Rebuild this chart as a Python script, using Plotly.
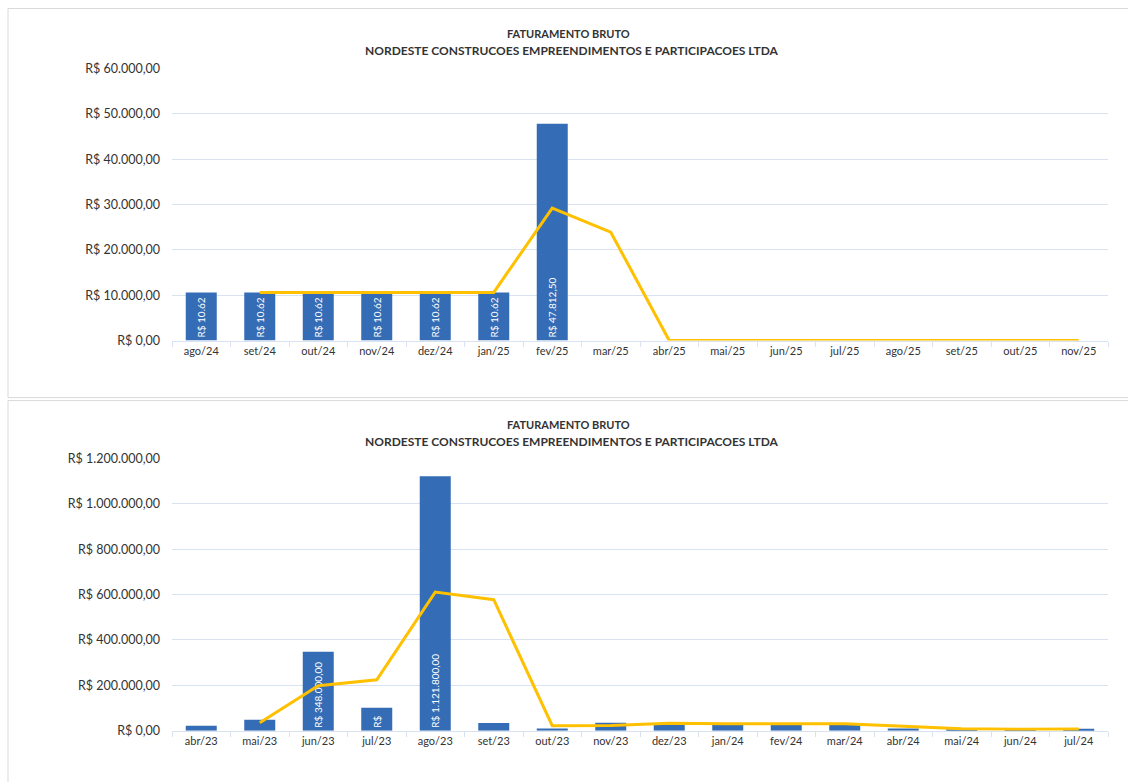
import plotly.graph_objects as go

# ---------------- data ----------------
months_top = ["ago/24", "set/24", "out/24", "nov/24", "dez/24", "jan/25", "fev/25", "mar/25",
              "abr/25", "mai/25", "jun/25", "jul/25", "ago/25", "set/25", "out/25", "nov/25"]
values_top = [10625, 10625, 10625, 10625, 10625, 10625, 47812.50, 0,
              0, 0, 0, 0, 0, 0, 0, 0]
labels_top = ["R$ 10.62", "R$ 10.62", "R$ 10.62", "R$ 10.62", "R$ 10.62", "R$ 10.62",
              "R$ 47.812,50", "", "", "", "", "", "", "", "", ""]

months_bot = ["abr/23", "mai/23", "jun/23", "jul/23", "ago/23", "set/23", "out/23", "nov/23",
              "dez/23", "jan/24", "fev/24", "mar/24", "abr/24", "mai/24", "jun/24", "jul/24"]
values_bot = [22000, 48000, 348000, 101000, 1121800, 34000, 10000, 35000,
              30000, 30000, 30000, 30000, 10000, 6000, 6000, 8000]
labels_bot = ["", "", "R$ 348.000,00", "R$", "R$ 1.121.800,00", "", "", "",
              "", "", "", "", "", "", "", ""]

title_line1 = "FATURAMENTO BRUTO"
title_line2 = "NORDESTE CONSTRUCOES EMPREENDIMENTOS E PARTICIPACOES LTDA"


def moving_avg(vals):
    out = [None]
    for i in range(1, len(vals)):
        out.append((vals[i - 1] + vals[i]) / 2)
    return out


# ---------------- layout constants ----------------
W, H = 1128, 782
FONT = "Lato"
BAR_COLOR = "#346cb5"
LINE_COLOR = "#FFC000"
GRID = "#d9e2f1"
TXT = "#333333"


def px(x):
    return x / W


def py(y):
    # vertical calibration of the rendered page
    yp = (y - 7.5) / 0.9806
    return 1 - yp / H


fig = go.Figure()

for idx, (cats, vals, labs) in enumerate([(months_top, values_top, labels_top),
                                          (months_bot, values_bot, labels_bot)]):
    xa = "x" if idx == 0 else "x2"
    ya = "y" if idx == 0 else "y2"
    fig.add_trace(go.Bar(
        x=cats, y=vals, text=labs, xaxis=xa, yaxis=ya,
        marker=dict(color=BAR_COLOR, line=dict(width=0)),
        width=0.53,
        textposition="inside", insidetextanchor="start", textangle=-90,
        constraintext="none",
        textfont=dict(family=FONT, size=10, color="white"),
        showlegend=False, cliponaxis=False,
    ))
    fig.add_trace(go.Scatter(
        x=cats, y=moving_avg(vals), xaxis=xa, yaxis=ya, mode="lines",
        line=dict(color=LINE_COLOR, width=3), showlegend=False,
    ))

axis_common_x = dict(
    type="category", showgrid=False, showline=True, linecolor=GRID, linewidth=1,
    ticks="outside", tickson="boundaries", ticklen=5, tickcolor=GRID,
    tickfont=dict(family=FONT, size=11, color=TXT), zeroline=False,
)
axis_common_y = dict(
    showgrid=True, gridcolor=GRID, gridwidth=1, zeroline=False, showline=False,
    tickprefix="R$ ", tickformat=",.2f", ticks="", ticklen=0, ticklabelstandoff=11,
    tickfont=dict(family=FONT, size=12.5, color=TXT),
)

fig.update_layout(
    width=W, height=H, margin=dict(l=0, r=0, t=0, b=0),
    paper_bgcolor="white", plot_bgcolor="white",
    separators=",.", bargap=0.47,
    font=dict(family=FONT),
    xaxis=dict(domain=[px(172), px(1108)], anchor="y", **axis_common_x),
    yaxis=dict(domain=[py(340), py(68)], anchor="x", range=[0, 60000], dtick=10000,
               **axis_common_y),
    xaxis2=dict(domain=[px(172), px(1108)], anchor="y2", **axis_common_x),
    yaxis2=dict(domain=[py(730), py(458)], anchor="x2", range=[0, 1200000], dtick=200000,
                **axis_common_y),
)

# panel borders
fig.add_shape(type="rect", xref="paper", yref="paper",
              x0=px(8), x1=px(1140), y0=py(397), y1=py(8),
              line=dict(color="#d9d9d9", width=1), fillcolor="rgba(0,0,0,0)", layer="below")
fig.add_shape(type="rect", xref="paper", yref="paper",
              x0=px(8), x1=px(1140), y0=py(800), y1=py(400),
              line=dict(color="#d9d9d9", width=1), fillcolor="rgba(0,0,0,0)", layer="below")

# titles
for ty in (33, 424):
    fig.add_annotation(text="<b>" + title_line1 + "</b>", xref="paper", yref="paper",
                       x=px(568), y=py(ty), showarrow=False, xanchor="center", yanchor="middle",
                       font=dict(family=FONT, size=11, color=TXT))
    fig.add_annotation(text="<b>" + title_line2 + "</b>", xref="paper", yref="paper",
                       x=px(572), y=py(ty + 17), showarrow=False, xanchor="center", yanchor="middle",
                       font=dict(family=FONT, size=12, color=TXT))

fig.write_html(
    "out.html",
    config={"displayModeBar": False},
    post_script="document.body.style.margin='0px';document.body.style.overflow='hidden';",
)
